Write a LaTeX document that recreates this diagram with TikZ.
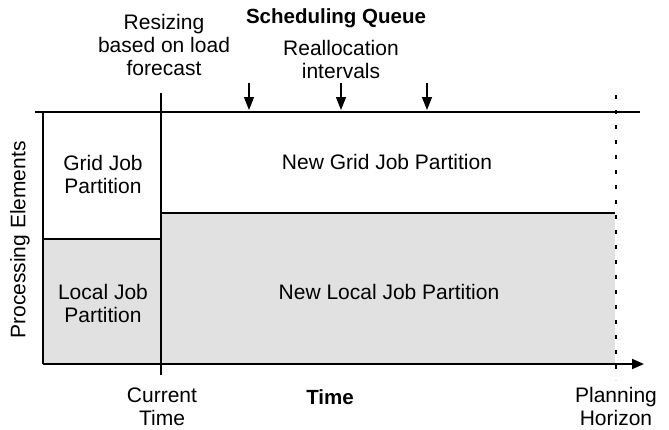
\documentclass[tikz,border=0pt]{standalone}
\usepackage{fontspec}
\setmainfont{Liberation Sans}
\usetikzlibrary{arrows.meta}
\definecolor{partgray}{RGB}{225,225,225}
\begin{document}
\begin{tikzpicture}[x=1pt,y=-1pt,
  lbl/.style={font=\fontsize{21}{23}\selectfont, align=center, inner sep=0pt},
  blbl/.style={lbl, font=\fontsize{20.5}{23}\selectfont\bfseries},
  axis/.style={line width=2pt},
  part/.style={line width=1.4pt},
  tick/.style={line width=1.4pt, -{Triangle[length=13pt,width=10pt]}},
  horizon/.style={line width=2.2pt, dash pattern=on 4pt off 11pt}]
\useasboundingbox (0,0) rectangle (669,429);
% coordinates
\coordinate (tl) at (35,112);
\coordinate (tr) at (640,112);
\coordinate (lt) at (43,112);
\coordinate (origin) at (43,364);
\coordinate (xend) at (644,364);
\coordinate (ctTop) at (161,93);
\coordinate (ctBot) at (161,375);
\coordinate (lb) at (43,239);
\coordinate (cb) at (161,239);
\coordinate (nl) at (161,213);
\coordinate (nr) at (615,213);
\coordinate (nbr) at (615,364);
\coordinate (phTop) at (616,95);
\coordinate (phBot) at (616,380);
\foreach \i/\x in {1/249,2/341,3/427}{
  \coordinate (a\i s) at (\x,83);
  \coordinate (a\i e) at (\x,110);
}
% fills
\fill[partgray] (lb) rectangle (ctBot |- origin);
\fill[partgray] (nl) rectangle (nbr);
% partition lines
\draw[part] (lb) -- (cb);
\draw[part] (nl) -- (nr);
% axes
\draw[axis] (tl) -- (tr);
\draw[axis] (lt) -- (origin);
\draw[axis, -{Triangle[length=12pt,width=10pt]}] (origin) -- (xend);
\draw[axis] (ctTop) -- (ctBot);
\draw[horizon] (phTop) -- (phBot);
\foreach \i in {1,2,3}{ \draw[tick] (a\i s) -- (a\i e); }
% labels
\node[blbl] (title) at (336,18) {Scheduling Queue};
\node[lbl] (resize) at (164,45) {Resizing\\based on load\\forecast};
\node[lbl] (realloc) at (341,59) {Reallocation\\intervals};
\node[lbl] (grid) at (103,174) {Grid Job\\Partition};
\node[lbl] (local) at (103,303) {Local Job\\Partition};
\node[lbl] (ngrid) at (387,162) {New Grid Job Partition};
\node[lbl] (nlocal) at (389,292) {New Local Job Partition};
\node[lbl, rotate=90] (pe) at (20,240) {Processing Elements};
\node[lbl] (ct) at (162,406.5) {Current\\Time};
\node[blbl] (time) at (330,397) {Time};
\node[lbl] (ph) at (616,406.5) {Planning\\Horizon};
\end{tikzpicture}
\end{document}
